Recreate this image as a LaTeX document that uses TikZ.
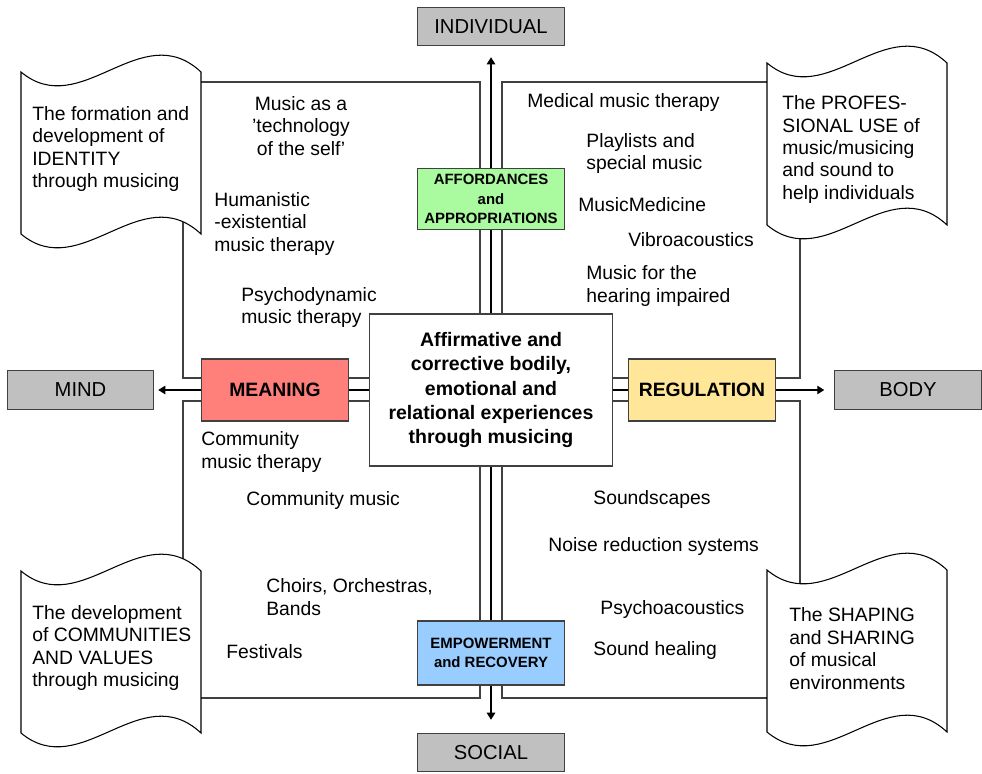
\documentclass[tikz,border=0pt]{standalone}
\usepackage{fontspec}
\setmainfont{Liberation Sans}
\usetikzlibrary{arrows.meta,positioning,backgrounds}
\definecolor{meaningred}{RGB}{255,128,122}
\definecolor{regyellow}{RGB}{255,230,153}
\definecolor{affgreen}{RGB}{170,250,160}
\definecolor{empblue}{RGB}{153,204,255}
\definecolor{polegrey}{RGB}{192,192,192}
\definecolor{linegrey}{RGB}{64,64,64}
\tikzset{
  pole/.style={draw=linegrey, fill=polegrey, line width=0.6pt, minimum width=2.93cm, minimum height=0.77cm, font=\fontsize{11.5}{13}\selectfont},
  corebox/.style={draw=linegrey, fill=white, line width=0.6pt, align=center, minimum width=4.86cm, minimum height=3.04cm, font=\fontsize{11.1}{13.8}\selectfont\bfseries},
  wing/.style={draw=linegrey, line width=0.6pt, minimum width=2.94cm, minimum height=1.24cm, font=\fontsize{11}{13}\selectfont\bfseries},
  axisbox/.style={draw=linegrey, line width=0.6pt, align=center, minimum width=2.94cm, minimum height=1.22cm, font=\fontsize{8.5}{11}\selectfont\bfseries},
  item/.style={anchor=west, inner sep=0pt, align=left, yshift=-0.04cm, font=\fontsize{11}{12.8}\selectfont},
  quadframe/.style={draw=linegrey, line width=0.6pt},
  pole arrow/.style={-{Triangle[length=1.4mm,width=1.7mm]}, line width=0.6pt},
  sheet/.pic={\draw[fill=white, line width=0.6pt] (0,0) .. controls (60,50) and (120,-56) .. (180,0) -- (180,162) .. controls (120,106) and (60,212) .. (0,162) -- cycle;}
}
\begin{document}
\begin{tikzpicture}[x=0.02cm, y=-0.02cm]
\useasboundingbox (0,0) rectangle (982,773);
% Centre and the four poles
\node[corebox] (core) at (491,390) {Affirmative and\\corrective bodily,\\emotional and\\relational experiences\\through musicing};
\node[pole] (indiv) at (491,26.5) {INDIVIDUAL};
\node[pole] (social) at (491,752.5) {SOCIAL};
\node[pole] (mind) at (80.5,390) {MIND};
\node[pole] (body) at (908,390) {BODY};
% Boxes on the axes
\node[wing, fill=meaningred] (meaning) at (275,390) {MEANING};
\node[wing, fill=regyellow] (regulation) at (702,390) {REGULATION};
\node[axisbox, fill=affgreen] (afford) at (491,199) {AFFORDANCES\\and\\APPROPRIATIONS};
\node[axisbox, fill=empblue, minimum height=1.28cm] (empower) at (491,653) {EMPOWERMENT\\and RECOVERY};
% Quadrant frames and axis arrows
\begin{scope}[on background layer]
\draw[quadframe] (183,82) rectangle (480,378);
\draw[quadframe] (502,82) rectangle (800,378);
\draw[quadframe] (183,401) rectangle (480,698);
\draw[quadframe] (502,401) rectangle (800,698);
\draw[pole arrow, shorten >=0.22cm] (core.north) -- (indiv.south);
\draw[pole arrow, shorten >=0.26cm] (core.south) -- (social.north);
\draw[pole arrow, shorten >=0.08cm] (core.west) -- (mind.east);
\draw[pole arrow, shorten >=0.2cm] (core.east) -- (body.west);
\end{scope}
% Wavy sheets in the corners
\pic at (21,72) {sheet};
\pic at (767,63) {sheet};
\pic at (21,571) {sheet};
\pic at (767,570) {sheet};
\node[item] (identity) at (32,147) {The formation and\\development of\\IDENTITY\\through musicing};
\node[item] (professional) at (782,147.5) {The PROFES-\\SIONAL USE of\\music/musicing\\and sound to\\help individuals};
\node[item] (communities) at (32,646) {The development\\of COMMUNITIES\\AND VALUES\\through musicing};
\node[item] (shaping) at (789,646.5) {The SHAPING\\and SHARING\\of musical\\environments};
% Top left
\node[item, anchor=center, align=center] (selftech) at (301,124) {Music as a\\’technology\\of the self’};
\node[item] (humanist) at (214,222) {Humanistic\\-existential\\music therapy};
\node[item] (psychodyn) at (241,305.5) {Psychodynamic\\music therapy};
% Top right
\node[item] (medical) at (527,101) {Medical music therapy};
\node[item] (playlists) at (586,151.5) {Playlists and\\special music};
\node[item] (musicmed) at (578,203) {MusicMedicine};
\node[item] (vibro) at (628,238) {Vibroacoustics};
\node[item] (hearing) at (586,284) {Music for the\\hearing impaired};
% Bottom left
\node[item] (commther) at (201,450) {Community\\music therapy};
\node[item] (commmusic) at (246,498) {Community music};
\node[item] (choirs) at (266,595) {Choirs, Orchestras,\\Bands};
\node[item] (festivals) at (226,650) {Festivals};
% Bottom right
\node[item] (soundscapes) at (593,497) {Soundscapes};
\node[item] (noise) at (548,544) {Noise reduction systems};
\node[item] (psychoac) at (600,607) {Psychoacoustics};
\node[item] (healing) at (593,648) {Sound healing};
\end{tikzpicture}
\end{document}
